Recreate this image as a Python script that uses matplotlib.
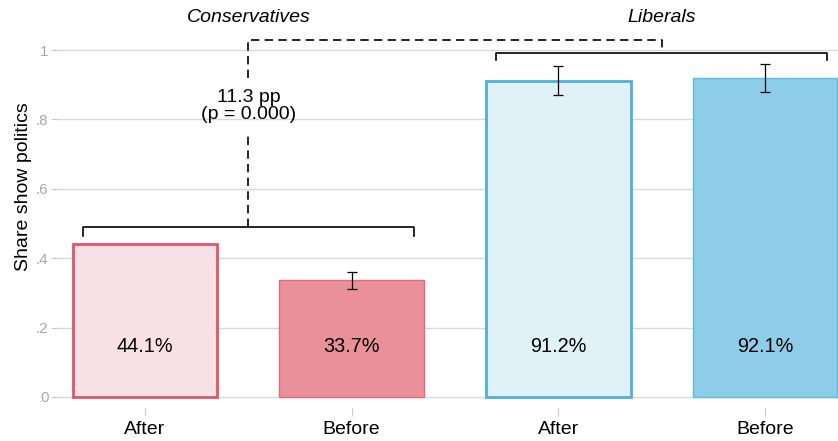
import matplotlib.pyplot as plt
import numpy as np

plt.rcParams["font.family"] = ["Liberation Sans", "DejaVu Sans"]

# shares by group and period
labels = ["After", "Before", "After", "Before"]
groups = ["Conservatives", "Liberals"]
shares = [0.441, 0.337, 0.912, 0.921]
ci_low = [np.nan, 0.311, 0.870, 0.880]
ci_high = [np.nan, 0.361, 0.953, 0.961]
diff_text = "11.3 pp\n(p = 0.000)"

fills = ["#f8e1e5", "#ea9099", "#e1f1f8", "#8dcde7"]
edges = ["#e05568", "#e06b7a", "#4ab2dc", "#5cbbe2"]
edge_w = [2.0, 1.0, 2.0, 1.0]

fig = plt.figure(figsize=(8.38, 4.41), dpi=100)
ax = fig.add_axes([57 / 838, 1 - 408 / 441, 1 - 57 / 838, (408 - 30) / 441])

x = np.arange(len(shares))
ax.bar(x, shares, width=0.70, color=fills, edgecolor=edges, linewidth=edge_w, zorder=2)

shares_arr = np.array(shares)
err = np.vstack([shares_arr - np.array(ci_low), np.array(ci_high) - shares_arr])
ax.errorbar(x, shares, yerr=err, fmt="none", ecolor="black", elinewidth=0.9,
            capsize=3.5, capthick=0.9, zorder=3)

for xi, v in zip(x, shares):
    ax.text(xi, 0.144, f"{v * 100:.1f}%", ha="center", va="center", fontsize=14.3, zorder=4)

# brackets over each group
def bracket(x0, x1, y, drop):
    ax.plot([x0, x0, x1, x1], [y - drop, y, y, y - drop], color="black", lw=1.2,
            clip_on=False, zorder=4)

bracket(-0.30, 1.30, 0.490, 0.026)
bracket(1.70, 3.30, 0.991, 0.020)

dash = dict(color="black", lw=1.2, ls=(0, (5, 3.2)), clip_on=False, zorder=4)
ax.plot([0.5, 0.5], [0.490, 0.762], **dash)
ax.plot([0.5, 0.5, 2.5, 2.5], [0.919, 1.029, 1.029, 0.991], **dash)
ax.text(0.5, 0.84, diff_text, ha="center", va="center", fontsize=14, linespacing=1.0)

ax.text(0.5, 1.095, groups[0], ha="center", va="center", fontsize=14, style="italic")
ax.text(2.5, 1.095, groups[1], ha="center", va="center", fontsize=14, style="italic")

ax.set_xlim(-0.426, 3.354)
ax.set_ylim(-0.032, 1.058)
ax.set_yticks([0, 0.2, 0.4, 0.6, 0.8, 1.0])
ax.set_yticklabels(["0", ".2", ".4", ".6", ".8", "1"], color="#a8a8a8", fontsize=11)
ax.set_xticks(x)
ax.set_xticklabels(labels, fontsize=14)
ax.tick_params(axis="x", length=6, color="#c8c8c8", pad=3)
ax.tick_params(axis="y", length=4, color="#c8c8c8", pad=2)
ax.set_ylabel("Share show politics", fontsize=14)
ax.yaxis.set_label_coords(-0.032, 0.585)
ax.grid(axis="y", color="#d9d9d9", lw=1.0, zorder=0)
ax.set_axisbelow(True)
for s in ax.spines.values():
    s.set_visible(False)

plt.savefig("out.png", dpi=100)
